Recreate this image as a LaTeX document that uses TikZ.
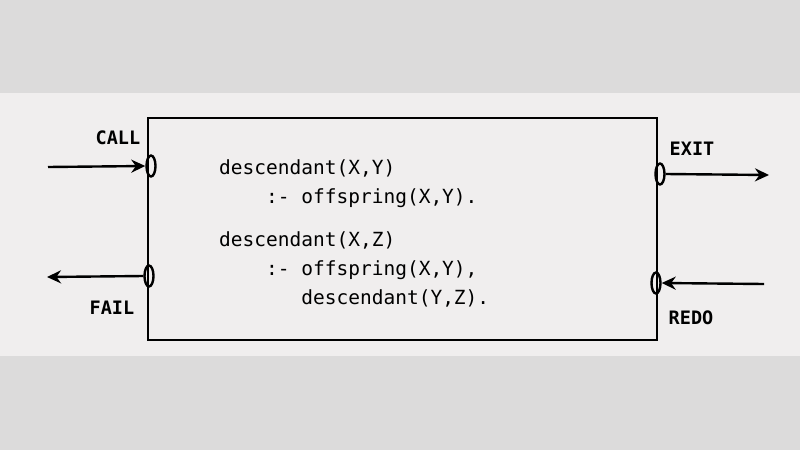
\documentclass[tikz,border=0pt]{standalone}
\usepackage{fontspec}
\setmonofont{DejaVu Sans Mono}
\usetikzlibrary{positioning,shapes.geometric,arrows.meta}
\definecolor{paper}{HTML}{F0EEEE}
\definecolor{band}{HTML}{DCDBDB}
\begin{document}
\begin{tikzpicture}[x=1pt, y=-1pt, line width=2.4pt, >={Stealth[length=14pt,width=13pt]},
    port/.style={draw, ellipse, minimum width=9pt, minimum height=21pt, inner sep=0pt},
    portname/.style={font=\ttfamily\bfseries\fontsize{18.5}{18.5}\selectfont},
    clause/.style={font=\ttfamily\fontsize{19.5}{29}\selectfont, align=left, inner sep=0pt}]
  % paper and box
  \fill[band] (0,0) rectangle (800,450);
  \fill[paper] (0,93) rectangle (800,356);
  \draw (148,118) rectangle (657,340);
  % program inside the box
  \node[clause, anchor=north west] (rule1) at (218,158)
    {descendant(X,Y)\\\phantom{desc}:- offspring(X,Y).};
  \node[clause, below=22pt of rule1.south west, anchor=north west] (rule2)
    {descendant(X,Z)\\\phantom{desc}:- offspring(X,Y),\\\phantom{descend}descendant(Y,Z).};
  % ports
  \node[port] (call) at (151,166) {};
  \node[port] (fail) at (149,276) {};
  \node[port] (exit) at (660,174) {};
  \node[port] (redo) at (656,283) {};
  \node[portname] (calltext) at (118,138) {CALL};
  \node[portname] (failtext) at (112,308) {FAIL};
  \node[portname] (exittext) at (692,149) {EXIT};
  \node[portname] (redotext) at (691,318) {REDO};
  % flow of control
  \coordinate (callin) at (48,167);
  \coordinate (failout) at (47,277);
  \coordinate (exitout) at (769,175);
  \coordinate (redoin) at (764,284);
  \draw[->] (callin) -- (call.west);
  \draw[->] (fail.west) -- (failout);
  \draw[->] (exit.east) -- (exitout);
  \draw[->] (redoin) -- (redo.east);
\end{tikzpicture}
\end{document}
